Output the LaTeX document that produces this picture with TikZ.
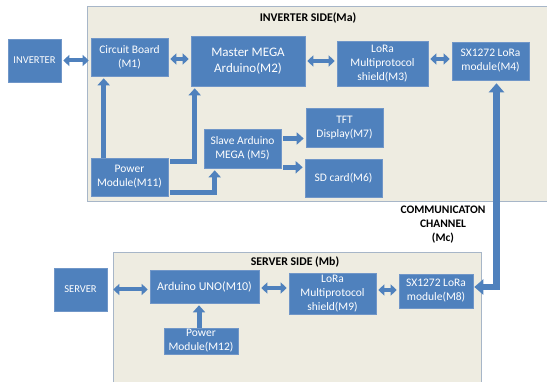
\documentclass[tikz,border=0pt]{standalone}
\usepackage{fontspec}
\setmainfont{Carlito}
\usetikzlibrary{arrows.meta}
\definecolor{boxblue}{HTML}{4F81BD}
\definecolor{boxedge}{HTML}{7096C8}
\definecolor{panelfill}{HTML}{EEECE1}
\definecolor{paneledge}{HTML}{A7B6C8}
\begin{document}
\begin{tikzpicture}[x=1pt,y=-1pt,
  blk/.style={draw=boxedge,line width=0.6pt,fill=boxblue,text=white,align=center,
    inner sep=0pt,font=\fontsize{11.5}{14}\selectfont},
  panel/.style={draw=paneledge,line width=0.8pt,fill=panelfill},
  title/.style={font=\fontsize{11.8}{14}\selectfont\bfseries,align=center},
  dbl/.style={boxblue,line width=4pt,{Triangle[width=11pt,length=6pt]}-{Triangle[width=11pt,length=6pt]},shorten <=2pt,shorten >=2pt},
  feed/.style={boxblue,line width=5pt,line join=miter,-{Triangle[width=12pt,length=7pt]},shorten >=2pt},
  chan/.style={boxblue,line width=6.5pt,line join=miter,{Triangle[width=15pt,length=9pt]}-{Triangle[width=15pt,length=9pt]},shorten <=1pt,shorten >=3pt}]
\useasboundingbox (0,0) rectangle (547,382);

\draw[panel] (87,6) rectangle (552,201);
\draw[panel] (113,252) rectangle (481,390);
\node[title] (tinv) at (308,18) {INVERTER SIDE(Ma)};
\node[title] (tsrv) at (295,262) {SERVER SIDE (Mb)};
\node[title,font=\fontsize{11.5}{14}\selectfont\bfseries] (tchan) at (443,225) {COMMUNICATON\\CHANNEL\\(Mc)};

\node[blk,minimum width=53pt,minimum height=43pt,font=\fontsize{10.5}{13}\selectfont] (inv) at (34.5,60.5) {INVERTER};
\node[blk,minimum width=77pt,minimum height=38pt] (m1) at (129.5,57) {Circuit Board\\(M1)};
\node[blk,minimum width=114pt,minimum height=50pt,font=\fontsize{13}{16}\selectfont] (m2) at (248,61) {Master MEGA\\Arduino(M2)};
\node[blk,minimum width=91pt,minimum height=45pt] (m3) at (382.5,63.5) {LoRa\\Multiprotocol\\shield(M3)};
\node[blk,minimum width=77pt,minimum height=38pt] (m4) at (490.5,61) {SX1272 LoRa\\module(M4)};
\node[blk,minimum width=77pt,minimum height=39pt] (m5) at (242.5,148.5) {Slave Arduino\\MEGA (M5)};
\node[blk,minimum width=77pt,minimum height=39pt] (m7) at (344.5,127.5) {TFT\\Display(M7)};
\node[blk,minimum width=77pt,minimum height=38pt] (m6) at (343.5,178) {SD card(M6)};
\node[blk,minimum width=77pt,minimum height=38pt] (m11) at (129.5,177) {Power\\Module(M11)};

\node[blk,minimum width=53pt,minimum height=43pt,font=\fontsize{10.5}{13}\selectfont] (srv) at (80.5,289.5) {SERVER};
\node[blk,minimum width=109pt,minimum height=33pt,font=\fontsize{12}{14}\selectfont] (m10) at (204.5,286.5) {Arduino UNO(M10)};
\node[blk,minimum width=74pt,minimum height=26pt] (m12) at (201,341) {Power\\Module(M12)};
\node[blk,minimum width=87pt,minimum height=41pt] (m9) at (332.5,293.5) {LoRa\\Multiprotocol\\shield(M9)};
\node[blk,minimum width=74pt,minimum height=34pt] (m8) at (436,291) {SX1272 LoRa\\module(M8)};

\draw[dbl] (inv.east) -- (inv.east -| m1.west);
\draw[dbl] ([yshift=-2pt]m1.east) -- ([yshift=-2pt]m1.east -| m2.west);
\draw[dbl] (m2.east) -- (m2.east -| m3.west);
\draw[dbl] ([yshift=2pt]m4.west -| m3.east) -- ([yshift=2pt]m4.west);
\draw[feed] ([xshift=13pt]m11.north west) -- ([xshift=13pt]m1.south west);
\draw[feed] ([xshift=2pt,yshift=-4pt]m11.north east) -| ([xshift=4pt]m2.south west);
\draw[feed] ([xshift=2pt,yshift=4pt]m11.south east) -| ([xshift=11pt]m5.south west);
\draw[feed] ([xshift=2pt,yshift=10pt]m5.east) -- ([yshift=10pt]m5.east -| m7.west);
\draw[feed] ([xshift=2pt,yshift=1pt]m5.south east) -- ([yshift=1pt]m5.south east -| m6.west);
\draw[chan] ([yshift=4pt]m8.east) -| ([xshift=6pt]m4.south);

\draw[dbl,shorten <=6pt] (srv.east) -- (srv.east -| m10.west);
\draw[dbl] ([yshift=-1.5pt]m10.east) -- ([yshift=-1.5pt]m10.east -| m9.west);
\draw[dbl] ([yshift=3.5pt]m9.east) -- ([yshift=3.5pt]m9.east -| m8.west);
\draw[feed] ([xshift=-2pt]m12.north) -- ([xshift=-2pt]m12.north |- m10.south);
\end{tikzpicture}
\end{document}
